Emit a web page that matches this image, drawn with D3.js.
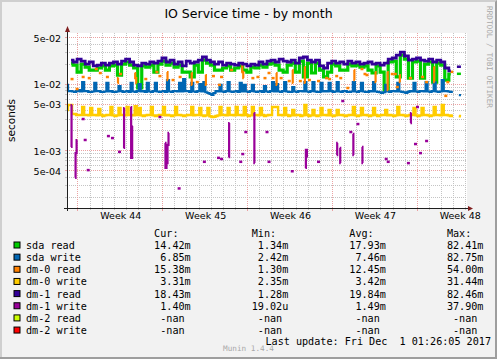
<!DOCTYPE html>
<html>
<head>
<meta charset="utf-8">
<title>IO Service time - by month</title>
<script src="https://cdn.jsdelivr.net/npm/d3@7/dist/d3.min.js"></script>
<style>
  html, body { margin: 0; padding: 0; background: #f2f2f2; }
  svg { display: block; }
</style>
</head>
<body>
<div id="chart-wrapper"></div>
<script>
// --- chart data -----------------------------------------------------------
var chartTitle = 'IO Service time - by month';
var unitLabel = 'seconds';
var lastUpdate = 'Last update: Fri Dec  1 01:26:05 2017';

var timeStart = new Date(Date.UTC(2017, 9, 29, 2, 26, 5));
var timeEnd = new Date(Date.UTC(2017, 11, 1, 2, 26, 5));
var yDomain = [1.37e-4, 5.93e-2];

var yTickValues = [5e-2, 1e-2, 5e-3, 1e-3, 5e-4];
var yTickLabels = ['5e-02', '1e-02', '5e-03', '1e-03', '5e-04'];

var weekStarts = ['2017-10-30', '2017-11-06', '2017-11-13', '2017-11-20', '2017-11-27'];
var weekLabels = ['Week 44', 'Week 45', 'Week 46', 'Week 47', 'Week 48'];

var seriesNames = ['sda read', 'sda write', 'dm-0 read', 'dm-0 write', 'dm-1 read', 'dm-1 write', 'dm-2 read', 'dm-2 write'];
var seriesColors = ['#00cc00', '#0066b3', '#ff8000', '#ffcc00', '#330099', '#990099', '#ccff00', '#ff0000'];

var curValues = ['14.42m', '6.85m', '15.38m', '3.31m', '18.43m', '1.40m', '-nan', '-nan'];
var minValues = ['1.34m', '2.42m', '1.30m', '2.35m', '1.28m', '19.02u', '-nan', '-nan'];
var avgValues = ['17.93m', '7.46m', '12.45m', '3.42m', '19.84m', '1.49m', '-nan', '-nan'];
var maxValues = ['82.41m', '82.75m', '54.00m', '31.44m', '82.46m', '37.90m', '-nan', '-nan'];

// sda read / dm-1 read: one value every 8 hours from timeStart, in milliseconds
var sdaRead = [null, 20.9, 19.5, 15.3, 20.2, 18.2, 16.4, 16.4, 17.6, 18.9,
    16.4, 18.9, 19.5, 13.8, 20.2, 21.7, 19.5, 17.6, 8.8, 18.9,
    18.2, 19.5, 15.3, 20.2, 22.4, 19.5, 20.9, 18.2, 19.5, 15.3,
    15.3, 12.9, 19.5, 15.3, 23.2, 20.9, 19.5, 16.4, 16.4, 17.6,
    18.9, 16.4, 17.6, 18.9, 16.4, 15.3, 18.2, 17.6, 19.5, 18.2,
    20.2, 20.9, 19.5, 16.4, 15.3, 19.5, 20.9, 15.3, 22.4, 12.9,
    20.9, 14.8, 20.9, 16.4, 12.9, 15.3, 20.2, 18.9, 16.4, 16.4,
    20.2, 18.9, 19.5, 18.2, 18.9, 16.4, 14.8, 18.9, 15.3, 8.2,
    21.7, 22.4, 12.9, 27.6, 24.0, 12.4, 21.7, 22.4, 12.4, 20.2,
    21.7, 10.8, 20.9, 19.5, 11.6, 14.3, null, 14.4, null];

var dm1Read = [null, 23.2, 21.7, 24.0, 22.4, 20.2, 21.7, 18.9, 19.5, 20.9,
    19.5, 20.9, 21.7, 20.2, 22.4, 24.0, 21.7, 19.5, 18.9, 20.9,
    20.2, 21.7, 20.9, 22.4, 24.9, 21.7, 23.2, 20.2, 21.7, 18.9,
    22.4, 20.9, 21.7, 23.2, 25.8, 23.2, 21.7, 20.2, 21.7, 19.5,
    20.9, 20.2, 19.5, 20.9, 20.2, 18.9, 20.2, 19.5, 21.7, 20.2,
    22.4, 23.2, 21.7, 24.0, 22.4, 21.7, 23.2, 20.9, 24.9, 25.8,
    23.2, 21.7, 23.2, 18.9, 17.6, 20.9, 22.4, 20.9, 21.7, 20.2,
    22.4, 20.9, 21.7, 20.2, 20.9, 21.7, 20.2, 20.9, 19.5, 20.9,
    24.0, 24.9, 27.6, 30.6, 26.7, 23.2, 24.0, 24.9, 23.2, 22.4,
    24.0, 21.7, 23.2, 21.7, 17.6, 15.9, null, 18.4, null];

// sda write / dm-0 write: one value every 4 hours from timeStart, in milliseconds
var sdaWrite = [9.8, 7.9, 7.9, 7.8, 7.7, 7.9, 8.2, 7.8, 10.8, 7.9, 7.9, 7.7, 7.7, 7.8, 10.5, 7.9, 7.9, 7.7, 7.7, 7.8,
    10.5, 7.8, 7.9, 7.7, 7.7, 7.8, 9.4, 7.9, 7.7, 7.8, 7.9, 7.7, 10.5, 7.8, 7.7, 7.9, 10.1, 7.8, 7.9, 7.7,
    10.5, 7.8, 7.7, 7.9, 10.5, 7.8, 7.7, 7.8, 7.9, 7.7, 11.6, 7.8, 7.7, 7.9, 7.9, 7.8, 10.5, 7.8, 12.0, 7.9,
    7.9, 7.7, 10.5, 7.8, 7.7, 7.9, 10.1, 7.8, 10.8, 7.6, 7.4, 7.2, 6.9, 7.4, 7.9, 7.8, 9.8, 7.8, 7.7, 7.9,
    10.8, 7.8, 7.7, 7.8, 7.9, 7.7, 10.5, 7.8, 9.8, 7.8, 7.7, 7.9, 9.8, 7.8, 7.7, 7.8, 7.9, 7.7, 9.4, 7.8,
    7.7, 7.9, 10.8, 7.8, 10.1, 7.8, 7.7, 7.9, 10.8, 7.8, 7.7, 7.7, 9.1, 7.8, 7.7, 7.9, 7.9, 7.8, 10.8, 7.8,
    7.7, 7.9, 10.8, 7.8, 7.7, 7.7, 10.5, 7.8, 7.9, 7.8, 10.5, 7.9, 7.7, 7.8, 10.8, 7.8, 7.7, 7.9, 7.9, 7.7,
    7.7, 7.8, 10.8, 7.8, 7.7, 7.9, 10.5, 7.8, 7.7, 7.7, 7.9, 7.8, 10.8, 7.8, 7.7, 7.6, 7.4, 7.6, 9.8, 7.8,
    7.7, 7.9, 7.9, 7.8, 10.5, 7.8, 7.7, 7.6, 7.4, 7.7, 7.9, 7.8, 10.5, 7.8, 7.7, 7.9, 7.9, 7.8, 10.8, 7.8,
    7.7, 7.9, 10.8, 7.8, 7.7, 7.8, 11.6, 7.9, 7.9, 7.8, 7.7, 7.7, null, null, 6.9, 6.85, null, null];

var dm0Write = [4.1, 4.88, 4.88, 3.57, 3.57, 3.45, 3.45, 3.45, 4.55, 3.45, 3.45, 3.4, 4.4, 3.45, 3.45, 3.4, 4.25, 3.45, 3.33, 3.4,
    3.45, 3.45, 4.55, 3.4, 3.33, 3.4, 4.4, 3.45, 3.45, 3.4, 4.55, 3.45, 3.45, 3.4, 4.7, 3.45, 4.4, 3.4, 3.33, 3.4,
    3.45, 3.45, 4.55, 3.4, 3.33, 3.4, 3.45, 3.45, 4.55, 3.4, 3.45, 3.4, 3.33, 3.4, 4.55, 3.45, 3.45, 3.4, 3.33, 3.4,
    3.45, 3.45, 4.55, 3.4, 3.45, 3.45, 4.4, 3.4, 3.33, 3.4, 4.4, 3.3, 3.22, 3.25, 3.33, 3.4, 4.55, 3.45, 3.45, 3.4,
    4.4, 3.45, 3.45, 3.4, 4.55, 3.45, 3.45, 3.4, 4.55, 3.45, 3.33, 3.4, 4.55, 3.45, 3.45, 3.4, 4.4, 3.45, 3.33, 3.4,
    3.45, 3.45, 4.55, 4.55, 4.55, 3.45, 3.45, 3.4, 4.4, 3.45, 3.33, 3.4, 4.1, 3.4, 3.45, 3.45, 3.33, 3.4, 4.88, 3.45,
    3.33, 3.4, 4.1, 3.4, 3.33, 3.4, 4.4, 3.45, 3.45, 3.4, 4.1, 3.4, 3.33, 3.4, 4.1, 3.45, 3.45, 3.4, 3.33, 3.4,
    3.45, 3.45, 4.55, 3.4, 3.33, 3.4, 4.4, 3.45, 3.45, 3.4, 3.33, 3.4, 4.4, 3.45, 3.33, 3.4, 3.45, 3.45, 4.1, 3.4,
    3.45, 3.4, 3.33, 3.4, 4.55, 3.45, 3.45, 3.4, 3.33, 3.4, 3.45, 3.45, 4.4, 3.4, 3.33, 3.4, 4.4, 3.45, 3.45, 3.4,
    3.33, 3.4, 4.55, 3.45, 3.45, 3.4, 4.88, 3.45, 3.45, 3.4, 3.33, 3.4, null, null, 3.35, 3.31, null, null];

// sparse series: [2-hour step from timeStart, milliseconds], null = gap
var dm0Read = [[5, 12.0], null, [10, 8.5], null, [16, 12.9], null, [22, 12.4], null,
    [29, 17.0], null, [33, 14.8], null, [40, 12.9], null, [50, 10.5], [51, 12.4], null,
    [53, 14.3], null, [67, 14.8], [68, 12.4], [69, 10.5], null, [78, 12.0], null,
    [89, 15.3], null, [92, 13.3], null, [99, 15.3], [100, 11.6], null, [105, 11.6], null,
    [112, 12.9], null, [123, 14.8], [124, 9.8], null, [129, 10.8], null,
    [137, 13.8], [138, 9.8], null, [145, 13.3], null, [151, 9.8], null, [153, 12.9], null,
    [163, 16.4], null, [173, 19.5], [174, 15.3], [175, 12.4], null, [184, 12.4], null,
    [189, 12.9], null, [196, 12.4], null, [200, 14.8], null, [204, 12.4], null,
    [207, 14.8], [208, 9.8], null, [212, 12.4], null, [220, 11.2], null,
    [223, 16.4], [224, 10.5], null, [231, 11.2], null, [235, 18.2], [236, 10.5], null,
    [240, 11.6], null, [249, 11.2], null, [257, 12.4], null, [260, 12.0], null,
    [267, 13.3], null, [271, 12.4], null, [278, 8.8], null, [284, 16.4], [285, 11.6], null,
    [292, 17.0], null, [295, 14.3], null, [297, 13.8], null, [305, 15.3], [306, 10.8], null,
    [317, 15.3], [318, 8.2], null, [322, 14.3], null, [325, 14.3], null, [327, 9.1], null,
    [329, 13.8], [330, 10.8], null, [340, 12.4], null, [352, 12.9], null, [356, 10.8], null,
    [363, 18.2], [364, 10.8], null, [375, 6.7], null, [377, 10.8], null, [381, 15.4]];

var dm1Write = [[4, 1.14], [5, 4.88], null, [8, 0.39], [9, 0.92], [10, 1.45], null,
    [16, 3.0], null, [18, 1.45], null, [21, 0.51], null, [41, 1.66], null, [45, 1.55], null,
    [52, 0.96], null, [56, 1.10], [57, 4.40], null, [63, 4.55], [64, 0.78], [65, 2.35], null,
    [92, 3.22], null, [97, 1.31], [98, 0.55], [99, 0.65], [100, 1.22], [101, 1.85], null,
    [111, 0.27], null, [136, 0.68], null, [150, 0.78], null, [153, 0.75], null,
    [160, 0.80], [161, 2.61], null, [172, 0.68], null, [174, 0.89], null, [177, 1.91], null,
    [185, 3.70], [186, 0.65], null, [198, 1.91], null, [200, 0.68], null, [223, 0.49], null,
    [236, 0.55], [237, 1.03], [238, 0.80], null, [249, 0.68], null,
    [267, 0.86], [268, 1.31], null, [270, 1.10], [271, 0.65], null, [273, 5.6], null,
    [281, 1.91], null, [283, 1.79], [284, 0.86], null, [288, 2.52], null,
    [292, 1.14], [293, 0.65], null, [316, 0.75], null, [318, 0.68], null, [338, 0.65], null,
    [340, 2.61], [341, 3.70], null, [345, 1.26], null, [347, 4.55], null, [350, 0.92], null,
    [356, 1.40]];

// --- drawing --------------------------------------------------------------
var width = 497,
    height = 359;

var plotLeft = 67,
    plotRight = 467,
    plotTop = 33,
    plotBottom = 208;

var HOUR = 3600 * 1000;

var monoFont = "'DejaVu Sans Mono', monospace";
var sansFont = "'DejaVu Sans', sans-serif";

var xScale = d3.scaleUtc().domain([timeStart, timeEnd]).range([plotLeft, plotRight]);
var yScale = d3.scaleLog().domain(yDomain).range([plotBottom, plotTop]);

var svg = d3.select('#chart-wrapper')
    .append('svg')
    .attr('width', width)
    .attr('height', height);

// frame with rrdtool style shading
svg.append('rect')
    .attr('width', width)
    .attr('height', height)
    .attr('fill', '#f2f2f2');
svg.append('path')
    .attr('d', 'M0,' + height + 'V0H' + width + 'v2H2V' + (height - 2) + 'z')
    .attr('fill', '#cfcfcf');
svg.append('path')
    .attr('d', 'M' + width + ',0V' + height + 'H0v-2H' + (width - 2) + 'V2z')
    .attr('fill', '#9e9e9e');

svg.append('rect')
    .attr('x', plotLeft)
    .attr('y', plotTop)
    .attr('width', plotRight - plotLeft)
    .attr('height', plotBottom - plotTop)
    .attr('fill', '#ffffff');

// grid
var grid = svg.append('g');
var minorColor = '#c4c4c4',
    majorColor = '#eba2a2';

function snap(v) {
    return Math.round(v - 0.5) + 0.5;
}

var yGridValues = [];
[-4, -3, -2].forEach(function (e) {
    for (var m = 1; m <= 9; m++) {
        var v = m * Math.pow(10, e);
        if (v >= yDomain[0] && v <= yDomain[1]) {
            yGridValues.push({ v: v, major: m === 1 || m === 5 });
        }
    }
});

yGridValues.sort(function (a, b) { return a.major - b.major; }).forEach(function (g) {
    var yy = snap(yScale(g.v));
    grid.append('line')
        .attr('x1', plotLeft).attr('x2', plotRight)
        .attr('y1', yy).attr('y2', yy)
        .attr('stroke', g.major ? majorColor : minorColor)
        .attr('stroke-dasharray', '1,1');
    grid.append('line')
        .attr('x1', plotLeft - 2).attr('x2', plotLeft)
        .attr('y1', yy).attr('y2', yy)
        .attr('stroke', g.major ? majorColor : minorColor);
});

var days = d3.utcDay.range(d3.utcDay.ceil(timeStart), timeEnd);
var mondays = weekStarts.map(function (s) { return new Date(s + 'T00:00:00Z'); });

days.filter(function (d) { return d.getUTCDay() !== 1; }).forEach(function (d) {
    var xx = snap(xScale(d));
    grid.append('line')
        .attr('x1', xx).attr('x2', xx)
        .attr('y1', plotTop).attr('y2', plotBottom)
        .attr('stroke', minorColor)
        .attr('stroke-dasharray', '1,1');
    grid.append('line')
        .attr('x1', xx).attr('x2', xx)
        .attr('y1', plotBottom).attr('y2', plotBottom + 2)
        .attr('stroke', minorColor);
});

mondays.forEach(function (d) {
    var xx = snap(xScale(d));
    grid.append('line')
        .attr('x1', xx).attr('x2', xx)
        .attr('y1', plotTop).attr('y2', plotBottom)
        .attr('stroke', majorColor)
        .attr('stroke-dasharray', '1,1');
    grid.append('line')
        .attr('x1', xx).attr('x2', xx)
        .attr('y1', plotBottom).attr('y2', plotBottom + 3)
        .attr('stroke', majorColor);
});

// series
var plot = svg.append('g');

function denseRuns(values, stepHours) {
    var runs = [], run = [];
    values.forEach(function (v, i) {
        if (v === null) {
            if (run.length) runs.push(run);
            run = [];
        } else {
            run.push({ t: new Date(+timeStart + i * stepHours * HOUR), v: v / 1000 });
        }
    });
    if (run.length) runs.push(run);
    return runs;
}

function sparseRuns(pairs, stepHours) {
    var runs = [], run = [];
    pairs.forEach(function (p) {
        if (p === null) {
            if (run.length) runs.push(run);
            run = [];
        } else {
            run.push({ t: new Date(+timeStart + p[0] * stepHours * HOUR), v: p[1] / 1000 });
        }
    });
    if (run.length) runs.push(run);
    return runs;
}

var line = d3.line()
    .x(function (d) { return xScale(d.t); })
    .y(function (d) { return yScale(d.v); })
    .curve(d3.curveStep);

function drawSeries(runs, color, strokeW, dotWidth) {
    var g = plot.append('g');
    runs.forEach(function (run) {
        if (run.length === 1) {
            g.append('rect')
                .attr('x', xScale(run[0].t) - dotWidth / 2)
                .attr('y', yScale(run[0].v) - 1.25)
                .attr('width', dotWidth)
                .attr('height', 2.5)
                .attr('fill', color);
        } else {
            g.append('path')
                .attr('d', line(run))
                .attr('fill', 'none')
                .attr('stroke', color)
                .attr('stroke-width', strokeW);
        }
    });
}

drawSeries(denseRuns(sdaRead, 8), seriesColors[0], 3.2, 4);
drawSeries(denseRuns(sdaWrite, 4), seriesColors[1], 2.2, 3);
drawSeries(sparseRuns(dm0Read, 2), seriesColors[2], 2.2, 3);
drawSeries(denseRuns(dm0Write, 4), seriesColors[3], 2.4, 3);
drawSeries(denseRuns(dm1Read, 8), seriesColors[4], 2.8, 4);
drawSeries(sparseRuns(dm1Write, 2), seriesColors[5], 2.2, 3);

// axes
var axisColor = '#1f1f1f',
    arrowColor = '#801f1f';

svg.append('line')
    .attr('x1', plotLeft - 3).attr('x2', plotRight + 2)
    .attr('y1', plotBottom + 0.5).attr('y2', plotBottom + 0.5)
    .attr('stroke', axisColor);
svg.append('line')
    .attr('x1', plotLeft + 0.5).attr('x2', plotLeft + 0.5)
    .attr('y1', plotBottom + 3).attr('y2', plotTop - 2)
    .attr('stroke', axisColor);
svg.append('path')
    .attr('d', 'M' + (plotRight + 1) + ',' + (plotBottom - 2) + 'L' + (plotRight + 6) + ',' + (plotBottom + 0.5) +
        'L' + (plotRight + 1) + ',' + (plotBottom + 3) + 'Z')
    .attr('fill', arrowColor);
svg.append('path')
    .attr('d', 'M' + (plotLeft - 2) + ',' + (plotTop - 1) + 'L' + (plotLeft + 0.5) + ',' + (plotTop - 7) +
        'L' + (plotLeft + 3) + ',' + (plotTop - 1) + 'Z')
    .attr('fill', arrowColor);

var yAxis = d3.axisLeft(yScale)
    .tickValues(yTickValues)
    .tickFormat(function (d, i) { return yTickLabels[i]; })
    .tickSize(0)
    .tickPadding(6);

var yAxisG = svg.append('g')
    .attr('transform', 'translate(' + plotLeft + ',0)')
    .call(yAxis);
yAxisG.select('.domain').remove();
yAxisG.selectAll('text')
    .attr('font-family', sansFont)
    .attr('font-size', '9.5px')
    .attr('fill', '#000')
    .attr('dy', '0.36em');

var weekCenters = mondays.map(function (d) { return new Date(+d + 84 * HOUR); });
var xAxis = d3.axisBottom(xScale)
    .tickValues(weekCenters)
    .tickFormat(function (d, i) { return weekLabels[i]; })
    .tickSize(0)
    .tickPadding(4);

var xAxisG = svg.append('g')
    .attr('transform', 'translate(0,' + plotBottom + ')')
    .call(xAxis);
xAxisG.select('.domain').remove();
xAxisG.selectAll('text')
    .attr('font-family', sansFont)
    .attr('font-size', '9.5px')
    .attr('fill', '#000');

// texts
svg.append('text')
    .attr('x', 248.5)
    .attr('y', 18)
    .attr('text-anchor', 'middle')
    .attr('font-family', sansFont)
    .attr('font-size', '12.5px')
    .text(chartTitle);

svg.append('text')
    .attr('transform', 'translate(15,' + ((plotTop + plotBottom) / 2) + ') rotate(-90)')
    .attr('text-anchor', 'middle')
    .attr('font-family', sansFont)
    .attr('font-size', '10.5px')
    .text(unitLabel);

svg.append('text')
    .attr('transform', 'translate(486.5,57) rotate(90)')
    .attr('text-anchor', 'middle')
    .attr('font-family', monoFont)
    .attr('font-size', '7.7px')
    .attr('fill', '#a8a8a8')
    .text('RRDTOOL / TOBI OETIKER');

// legend
var legendX0 = 26,
    charW = 6.1,
    legendHeadY = 236.8,
    legendRowY = 249,
    legendRowH = 12.15;

var legend = svg.append('g')
    .attr('font-family', monoFont)
    .attr('font-size', '10.13px')
    .attr('fill', '#000');

var columns = [
    { head: 'Cur:', col: 21, values: curValues },
    { head: 'Min:', col: 37, values: minValues },
    { head: 'Avg:', col: 53, values: avgValues },
    { head: 'Max:', col: 69, values: maxValues }
];

columns.forEach(function (c) {
    legend.append('text')
        .attr('x', legendX0 + c.col * charW)
        .attr('y', legendHeadY)
        .text(c.head);
});

seriesNames.forEach(function (name, i) {
    var by = legendRowY + i * legendRowH;
    legend.append('rect')
        .attr('x', 14)
        .attr('y', by - 7)
        .attr('width', 6)
        .attr('height', 6)
        .attr('fill', seriesColors[i])
        .attr('stroke', '#000')
        .attr('stroke-width', 1);
    legend.append('text')
        .attr('x', legendX0)
        .attr('y', by)
        .text(name);
    columns.forEach(function (c) {
        var s = c.values[i];
        var len = s === '-nan' ? s.length + 1 : s.length;
        legend.append('text')
            .attr('x', legendX0 + (c.col + 6 - len) * charW)
            .attr('y', by)
            .text(s);
    });
});

svg.append('text')
    .attr('x', 248.5)
    .attr('y', 351)
    .attr('text-anchor', 'middle')
    .attr('font-family', monoFont)
    .attr('font-size', '7.7px')
    .attr('fill', '#a8a8a8')
    .text('Munin 1.4.4');

legend.append('text')
    .attr('x', 491)
    .attr('y', 345)
    .attr('text-anchor', 'end')
    .text(lastUpdate)
    .style('white-space', 'pre');
</script>
</body>
</html>
